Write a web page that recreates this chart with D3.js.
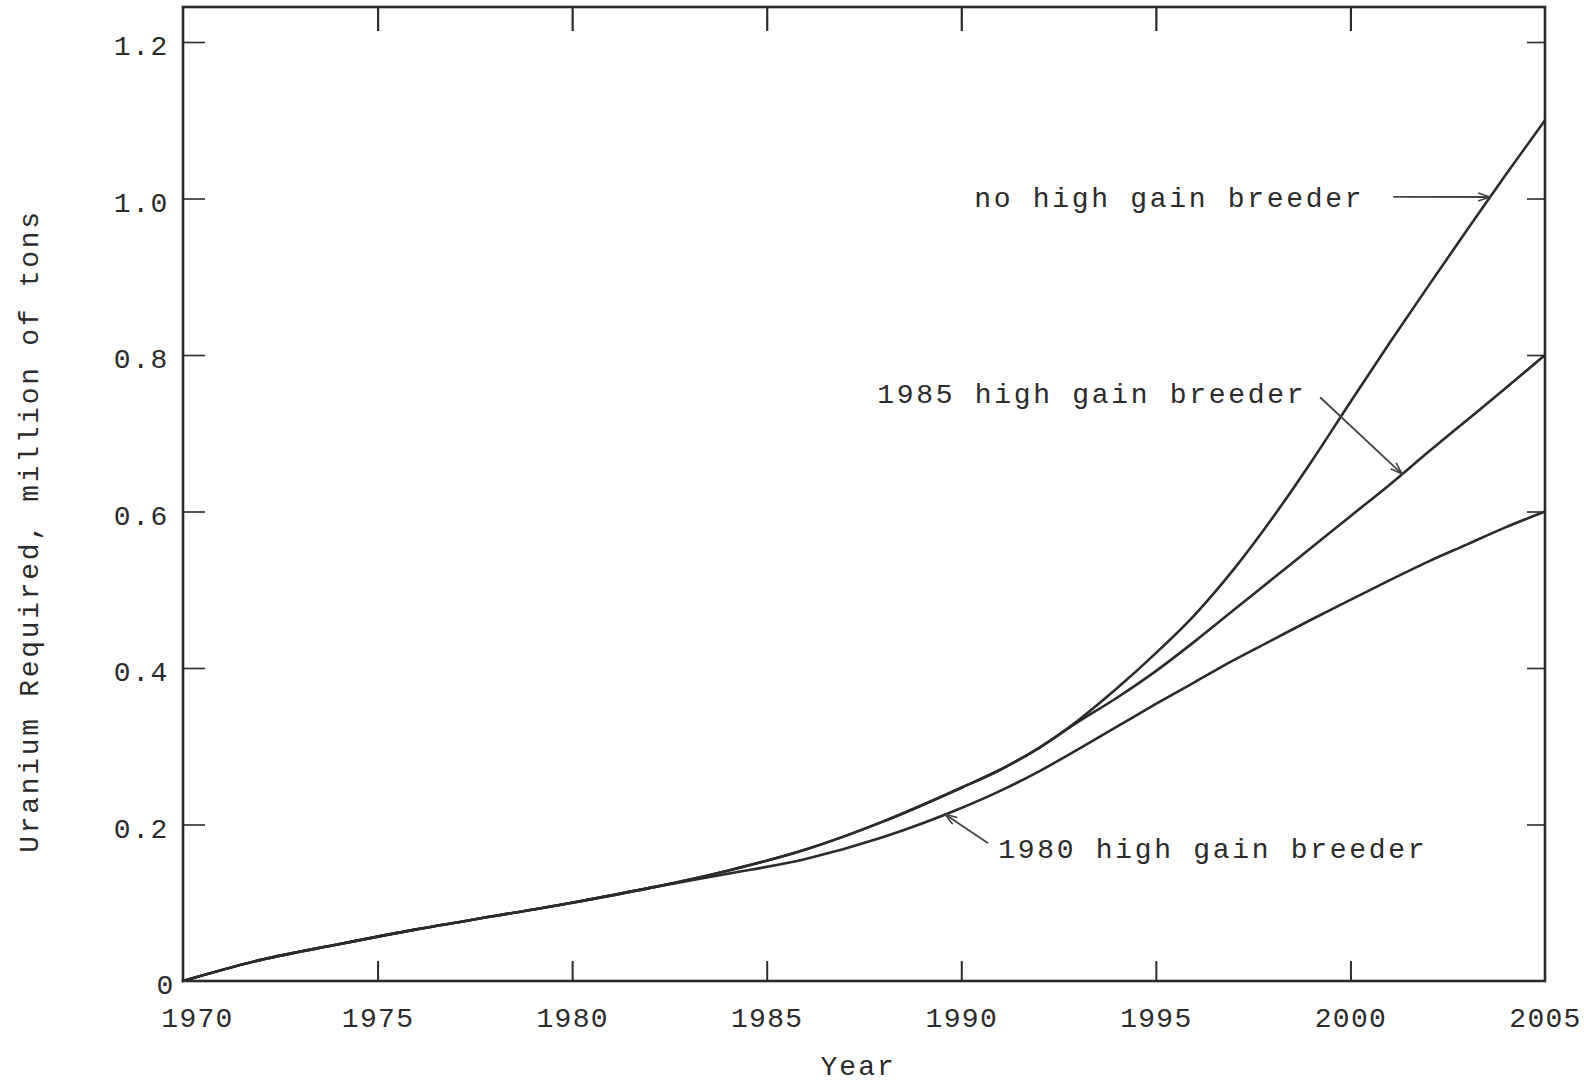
<!DOCTYPE html>
<html>
<head>
<meta charset="utf-8">
<script src="https://cdn.jsdelivr.net/npm/d3@7"></script>
<style>
  html, body { margin: 0; padding: 0; background: #ffffff; }
  svg { display: block; }
  text { font-family: "Liberation Mono", "Courier New", monospace; fill: #2b2b2b; }
</style>
</head>
<body>
<svg id="chart" width="1588" height="1082"></svg>
<script>
// ---------------- data ----------------
const years = [1970, 1972, 1974, 1976, 1978, 1980, 1982, 1984, 1986, 1988, 1990,
               1991, 1992, 1993, 1994, 1995, 1996, 1997, 1998, 1999, 2000,
               2001, 2002, 2003, 2004, 2005];
const noHighGain = [0, 0.027, 0.047, 0.066, 0.083, 0.100, 0.119, 0.141, 0.168, 0.204, 0.247,
                    0.270, 0.298, 0.333, 0.374, 0.419, 0.468, 0.526, 0.592, 0.664, 0.740,
                    0.815, 0.888, 0.960, 1.031, 1.100];
const breeder1985 = [0, 0.027, 0.047, 0.066, 0.083, 0.100, 0.119, 0.141, 0.168, 0.204, 0.247,
                     0.270, 0.298, 0.331, 0.362, 0.396, 0.434, 0.474, 0.514, 0.554, 0.594,
                     0.634, 0.676, 0.717, 0.758, 0.800];
const breeder1980 = [0, 0.027, 0.047, 0.066, 0.083, 0.100, 0.119, 0.137, 0.156, 0.184, 0.221,
                     0.243, 0.268, 0.296, 0.325, 0.354, 0.382, 0.410, 0.436, 0.462, 0.487,
                     0.512, 0.536, 0.558, 0.580, 0.600];
const xTicks = [1970, 1975, 1980, 1985, 1990, 1995, 2000, 2005];
const yTicks = [0, 0.2, 0.4, 0.6, 0.8, 1.0, 1.2];
const yTickLabels = ["0", "0.2", "0.4", "0.6", "0.8", "1.0", "1.2"];
const xTitle = "Year";
const yTitle = "Uranium Required, million of tons";
// annotation labels: text, series, arrow tip year, arrow tail (year, value), label start (year, baseline value)
const annLabels = ["no high gain breeder", "1985 high gain breeder", "1980 high gain breeder"];
const annSeries = [noHighGain, breeder1985, breeder1980];
const annTipYear = [2003.59, 2001.33, 1989.58];
const annTailYear = [2001.1, 1999.22, 1990.69];
const annTailValue = [1.002, 0.746, 0.176];
const annLabelYear = [1990.33, 1987.84, 1990.95];
const annLabelValue = [0.989, 0.739, 0.157];

// ---------------- layout ----------------
const svg = d3.select("#chart");
const X0 = 183, X1 = 1545, Y0 = 981, YTOP = 42, FRAME_TOP = 7;
const x = d3.scaleLinear().domain([1970, 2005]).range([X0, X1]);
const y = d3.scaleLinear().domain([0, 1.2]).range([Y0, YTOP]);
const ink = "#2b2b2b";

// frame
svg.append("rect")
  .attr("x", X0).attr("y", FRAME_TOP)
  .attr("width", X1 - X0).attr("height", Y0 - FRAME_TOP)
  .attr("fill", "none").attr("stroke", ink).attr("stroke-width", 2.6);

// bottom axis (ticks inward, labels below)
const bottomAxis = d3.axisBottom(x).tickValues(xTicks).tickFormat(d3.format("d"))
  .tickSize(-20).tickPadding(36);
const gB = svg.append("g").attr("transform", `translate(0,${Y0})`).call(bottomAxis);
gB.select(".domain").remove();
gB.selectAll(".tick line").attr("stroke", ink).attr("stroke-width", 2)
  .filter(d => d === 1970 || d === 2005).remove();
gB.selectAll(".tick text")
  .attr("font-size", 28).attr("letter-spacing", 1.3)
  .attr("fill", ink).attr("font-family", "Liberation Mono, monospace")
  .attr("dy", "0.35em")
  .attr("dx", d => d === 1970 ? 14 : 0);

// top ticks
const topAxis = d3.axisTop(x).tickValues(xTicks.filter(d => d > 1970 && d < 2005))
  .tickSize(-24).tickFormat("");
const gT = svg.append("g").attr("transform", `translate(0,${FRAME_TOP})`).call(topAxis);
gT.select(".domain").remove();
gT.selectAll(".tick line").attr("stroke", ink).attr("stroke-width", 2.2);

// left axis
const leftAxis = d3.axisLeft(y).tickValues(yTicks).tickFormat((d, i) => yTickLabels[i])
  .tickSize(-22).tickPadding(14);
const gL = svg.append("g").attr("transform", `translate(${X0},0)`).call(leftAxis);
gL.select(".domain").remove();
gL.selectAll(".tick line").attr("stroke", ink).attr("stroke-width", 1.6)
  .filter(d => d === 0).remove();
gL.selectAll(".tick text")
  .attr("font-size", 28).attr("letter-spacing", 1.6)
  .attr("fill", ink).attr("font-family", "Liberation Mono, monospace")
  .attr("dy", "0.45em")
  .attr("dx", d => d === 0 ? 6 : 0);

// right ticks
const rightAxis = d3.axisRight(y).tickValues(yTicks.filter(d => d > 0)).tickSize(-18).tickFormat("");
const gR = svg.append("g").attr("transform", `translate(${X1},0)`).call(rightAxis);
gR.select(".domain").remove();
gR.selectAll(".tick line").attr("stroke", ink).attr("stroke-width", 1.6);

// axis titles
svg.append("text")
  .attr("x", x(1987.35)).attr("y", 1075)
  .attr("text-anchor", "middle").attr("font-size", 28).attr("letter-spacing", 2)
  .text(xTitle);
svg.append("text")
  .attr("transform", `translate(38,${y(0.575)}) rotate(-90)`)
  .attr("text-anchor", "middle").attr("font-size", 28).attr("letter-spacing", 2.7)
  .text(yTitle);

// curves
const line = d3.line()
  .x((d, i) => x(years[i]))
  .y(d => y(d))
  .curve(d3.curveMonotoneX);
[noHighGain, breeder1985, breeder1980].forEach(s => {
  svg.append("path")
    .attr("d", line(s))
    .attr("fill", "none").attr("stroke", ink)
    .attr("stroke-width", 2.6).attr("stroke-linejoin", "round").attr("stroke-linecap", "round");
});

// arrowhead marker
svg.append("defs").append("marker")
  .attr("id", "arrow").attr("markerUnits", "userSpaceOnUse")
  .attr("viewBox", "0 0 14 10").attr("refX", 13).attr("refY", 5)
  .attr("markerWidth", 14).attr("markerHeight", 10).attr("orient", "auto")
  .append("path").attr("d", "M1,1 L13,5 L1,9")
  .attr("fill", "none").attr("stroke", "#444").attr("stroke-width", 1.6);

function valueAt(series, yr) {
  const i = Math.max(1, Math.min(years.length - 1, d3.bisectLeft(years, yr)));
  const t = (yr - years[i - 1]) / (years[i] - years[i - 1]);
  return series[i - 1] + t * (series[i] - series[i - 1]);
}

annLabels.forEach((lab, k) => {
  svg.append("line")
    .attr("x1", x(annTailYear[k])).attr("y1", y(annTailValue[k]))
    .attr("x2", x(annTipYear[k])).attr("y2", y(valueAt(annSeries[k], annTipYear[k])))
    .attr("stroke", "#444").attr("stroke-width", 1.8)
    .attr("marker-end", "url(#arrow)");
  svg.append("text")
    .attr("x", x(annLabelYear[k])).attr("y", y(annLabelValue[k]))
    .attr("font-size", 28).attr("letter-spacing", 2.7)
    .text(lab);
});
</script>
</body>
</html>
